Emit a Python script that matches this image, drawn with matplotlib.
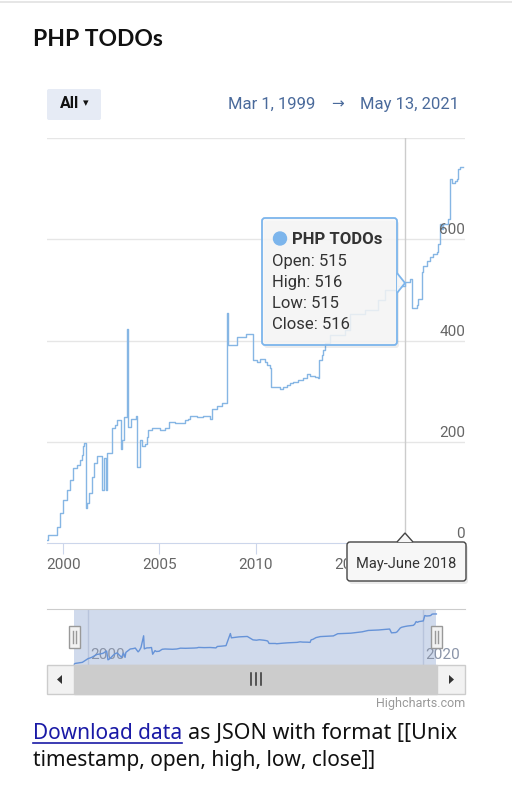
import numpy as np
import matplotlib.pyplot as plt
from matplotlib.patches import FancyBboxPatch, Rectangle, Polygon
from matplotlib.lines import Line2D

# values (x in decimal years as laid out on the axis)
years = [1999.17, 1999.22, 1999.65, 1999.82, 1999.98, 2000.21, 2000.35, 2000.52,
         2000.69, 2000.87, 2000.95, 2001.04, 2001.10, 2001.18, 2001.25, 2001.35,
         2001.47, 2001.60, 2001.73, 2001.99, 2002.11, 2002.20, 2002.25, 2002.51,
         2002.69, 2002.81, 2002.98, 2003.05, 2003.15, 2003.31, 2003.35, 2003.50,
         2003.64, 2003.78, 2003.85, 2003.99, 2004.07, 2004.24, 2004.33, 2004.42,
         2004.59, 2005.03, 2005.29, 2005.51, 2005.81, 2006.33, 2006.50, 2006.59,
         2006.93, 2007.28, 2007.63, 2007.71, 2007.97, 2008.23, 2008.49, 2008.55,
         2009.01, 2009.50, 2009.84, 2010.05, 2010.22, 2010.48, 2010.61, 2010.72,
         2010.80, 2011.17, 2011.26, 2011.43, 2011.61, 2011.78, 2011.95, 2012.21,
         2012.47, 2012.65, 2012.82, 2013.08, 2013.25, 2013.31, 2013.43, 2013.51,
         2013.60, 2013.86, 2014.64, 2014.90, 2015.68, 2016.36, 2016.72, 2017.34,
         2017.75, 2018.00, 2018.11, 2018.37, 2018.45, 2018.63, 2018.72, 2018.89,
         2019.06, 2019.23, 2019.41, 2019.49, 2019.58, 2019.66, 2019.75, 2020.01,
         2020.10, 2020.20, 2020.36, 2020.45, 2020.53, 2020.62, 2020.79]
todos = [5, 16, 32, 59, 85, 105, 125, 148,
         154, 164, 174, 191, 198, 69, 79, 99,
         131, 158, 171, 105, 168, 105, 178, 228,
         234, 242, 186, 204, 248, 422, 230, 244,
         245, 250, 151, 204, 191, 195, 210, 224,
         228, 224, 228, 240, 238, 242, 245, 251,
         248, 250, 244, 265, 270, 277, 455, 392,
         406, 412, 362, 357, 364, 357, 352, 345,
         309, 309, 305, 309, 313, 316, 319, 322,
         325, 333, 329, 328, 325, 362, 371, 382,
         395, 410, 420, 452, 460, 480, 500, 507,
         516, 521, 465, 470, 481, 535, 547, 557,
         565, 570, 575, 590, 630, 620, 630, 640,
         719, 712, 715, 719, 739, 742, 742]

y_ticks = [0, 200, 400, 600]
grid_vals = [200, 400, 600, 800]
x_ticks = [2000, 2005, 2010, 2015]
nav_ticks = [2000, 2020]
hover_year = 2017.75
hover_label = 'May-June 2018'
tooltip_rows = ['Open: 515', 'High: 516', 'Low: 515', 'Close: 516']
date_from, date_to = 'Mar 1, 1999', 'May 13, 2021'

W, H = 512, 800
LINE = '#7cb5ec'
TXT = '#333333'
FONT = ['Roboto', 'DejaVu Sans']
BODY = ['Noto Sans', 'DejaVu Sans']


def rect(x0, y0, x1, y1):
    # pixel box (top-left origin) -> figure fraction
    return [x0 / W, 1 - y1 / H, (x1 - x0) / W, (y1 - y0) / H]


def main():
    fig = plt.figure(figsize=(W / 100, H / 100), dpi=100)

    fig.add_artist(Line2D([0, W], [H - 1.5, H - 1.5], transform=None, color='#e2e2e2', lw=1.2))

    fig.text(33 / W, 1 - 40 / H, 'PHP TODOs', fontsize=16.5, fontweight='bold',
             family=['Lato', 'DejaVu Sans'], color='#111111', va='center', ha='left')

    # range selector button and dates
    fig.add_artist(FancyBboxPatch((47, H - 120), 54, 31, boxstyle='round,pad=0,rounding_size=2',
                                  transform=None, fc='#e6ebf5', ec='none'))
    fig.text(70 / W, 1 - 104 / H, 'All', fontsize=11.5, fontweight='bold', family=FONT,
             color='#111111', ha='center', va='center')
    fig.text(86 / W, 1 - 103 / H, '▾', fontsize=8, family=['DejaVu Sans'],
             color='#111111', ha='center', va='center')
    fig.text(315 / W, 1 - 104 / H, date_from, fontsize=12, family=FONT,
             color='#4a6a9b', ha='right', va='center')
    fig.text(337 / W, 1 - 104 / H, '→', fontsize=11, family=FONT,
             color='#4a6a9b', ha='center', va='center')
    fig.text(459 / W, 1 - 104 / H, date_to, fontsize=12, family=FONT,
             color='#4a6a9b', ha='right', va='center')

    # main chart
    ax = fig.add_axes(rect(47, 138, 465, 543))
    ax.plot(years, todos, drawstyle='steps-post', color='#86b6e4', lw=1.0, zorder=3)
    ax.set_ylim(0, 800)
    ax.set_xlim(1999.153, 2020.88)
    for v in grid_vals:
        ax.axhline(v, color='#e6e6e6', lw=1, zorder=1)
    for s in ['top', 'right', 'left']:
        ax.spines[s].set_visible(False)
    ax.spines['bottom'].set_color('#ccd6eb')
    ax.set_yticks([])
    ax.set_xticks(x_ticks)
    ax.set_xticklabels([str(t) for t in x_ticks], fontsize=11, family=FONT, color='#666666')
    ax.tick_params(axis='x', length=8, color='#ccd6eb', pad=3)
    for v in y_ticks:
        ax.annotate(str(v), xy=(1, v), xycoords=('axes fraction', 'data'), xytext=(0, 2),
                    textcoords='offset pixels', ha='right', va='bottom', fontsize=11,
                    family=FONT, color='#666666')
    # the crosshair label hides the right part of the last year label
    clip = Rectangle((0, 0), 346, H, transform=None)
    ax.get_xticklabels()[-1].set_clip_path(clip)

    # crosshair
    ax.axvline(hover_year, ymin=0, ymax=1, color='#cccccc', lw=1, zorder=2)

    # tooltip box
    fig.add_artist(FancyBboxPatch((264, H - 348), 135, 127, boxstyle='round,pad=0,rounding_size=3',
                                  transform=None, fc=(0, 0, 0, 0.07), ec='none', zorder=9))
    fig.add_artist(FancyBboxPatch((262, H - 345), 135, 127, boxstyle='round,pad=0,rounding_size=3',
                                  transform=None, fc=(0.97, 0.97, 0.97, 0.85), ec=LINE, lw=1.3,
                                  zorder=10))
    fig.add_artist(Polygon([(397, H - 273), (405, H - 283), (397, H - 293)], closed=False,
                           transform=None, fc=(0.97, 0.97, 0.97, 0.95), ec=LINE, lw=1.3, zorder=11))
    fig.add_artist(plt.Circle((280, H - 238.5), 6.5, transform=None, color=LINE, zorder=12))
    fig.text(292 / W, 1 - 239 / H, 'PHP TODOs', fontsize=12, fontweight='bold', family=FONT,
             color=TXT, va='center', ha='left', zorder=12)
    for i, row in enumerate(tooltip_rows):
        fig.text(272 / W, 1 - (261.5 + 21 * i) / H, row, fontsize=12, family=FONT,
                 color=TXT, va='center', ha='left', zorder=12)

    # crosshair label
    fig.add_artist(FancyBboxPatch((349, H - 584), 119, 39, boxstyle='round,pad=0,rounding_size=3',
                                  transform=None, fc=(0, 0, 0, 0.08), ec='none', zorder=9))
    fig.add_artist(FancyBboxPatch((347, H - 581), 119, 39, boxstyle='round,pad=0,rounding_size=3',
                                  transform=None, fc='#f7f7f7', ec='#444444', lw=1, zorder=10))
    fig.add_artist(Polygon([(397, H - 542), (405, H - 533), (413, H - 542)], closed=False,
                           transform=None, fc='#f7f7f7', ec='#444444', lw=1, zorder=11))
    fig.text(406 / W, 1 - 564 / H, hover_label, fontsize=10.5, family=FONT, color=TXT,
             ha='center', va='center', zorder=12)

    # navigator
    nav = fig.add_axes(rect(47, 609, 465, 665))
    nav.set_xlim(1997.54, 2022.50)
    nav.set_ylim(-7, 815)
    nav.axvspan(years[0], years[-1], color=(102 / 255, 133 / 255, 194 / 255, 0.3), lw=0, zorder=1)
    for t in nav_ticks:
        nav.axvline(t, color='#b8c4dc', lw=1, zorder=2)
        nav.annotate(str(t), xy=(t, 0.05), xycoords=('data', 'axes fraction'), xytext=(2, 0),
                     textcoords='offset pixels', fontsize=11, family=FONT, color='#8a94a8',
                     ha='left', va='bottom', zorder=2)
    nav.plot(years, todos, color='#6693d8', lw=1, zorder=3)
    nav.set_xticks([])
    nav.set_yticks([])
    for s in ['right', 'left', 'bottom']:
        nav.spines[s].set_visible(False)
    nav.spines['top'].set_color('#cccccc')

    for hx in (74.5, 436.5):
        fig.add_artist(Rectangle((hx - 5.5, H - 648), 11, 22, transform=None,
                                 fc='#f2f2f2', ec='#999999', lw=1, zorder=5))
        for dx in (-1.5, 1.5):
            fig.add_artist(Line2D([hx + dx, hx + dx], [H - 643, H - 631], transform=None,
                                  color='#999999', lw=1, zorder=6))

    # scrollbar
    fig.add_artist(Rectangle((47, H - 694), 418, 29, transform=None, fc='#f2f2f2',
                             ec='#cccccc', lw=1))
    fig.add_artist(Rectangle((74, H - 694), 363, 29, transform=None, fc='#cccccc',
                             ec='#cccccc', lw=1))
    for dx in (-5, 0, 5):
        fig.add_artist(Line2D([256 + dx, 256 + dx], [H - 685, H - 673], transform=None,
                              color='#333333', lw=1.1))
    fig.add_artist(Polygon([(62, H - 675), (57, H - 679.5), (62, H - 684)], transform=None,
                           fc='#333333', ec='none'))
    fig.add_artist(Polygon([(449, H - 675), (454, H - 679.5), (449, H - 684)], transform=None,
                           fc='#333333', ec='none'))

    fig.text(465 / W, 1 - 704 / H, 'Highcharts.com', fontsize=9, family=FONT,
             color='#999999', ha='right', va='center')

    # footer text with link
    fig.canvas.draw()
    rend = fig.canvas.get_renderer()
    link = fig.text(33 / W, 1 - 739 / H, 'Download data', fontsize=15, family=BODY,
                    color='#1a1aa6', ha='left', va='baseline')
    bb = link.get_window_extent(rend)
    fig.add_artist(Line2D([bb.x0, bb.x1], [bb.y0 + 1, bb.y0 + 1], transform=None,
                          color='#1a1aa6', lw=1.2))
    fig.text((bb.x1 + 6) / W, 1 - 739 / H, 'as JSON with format [[Unix', fontsize=15.5,
             family=BODY, color='#111111', ha='left', va='baseline')
    fig.text(33 / W, 1 - 766 / H, 'timestamp, open, high, low, close]]', fontsize=15,
             family=BODY, color='#111111', ha='left', va='baseline')

    fig.savefig('out.png', dpi=100)


if __name__ == '__main__':
    main()
